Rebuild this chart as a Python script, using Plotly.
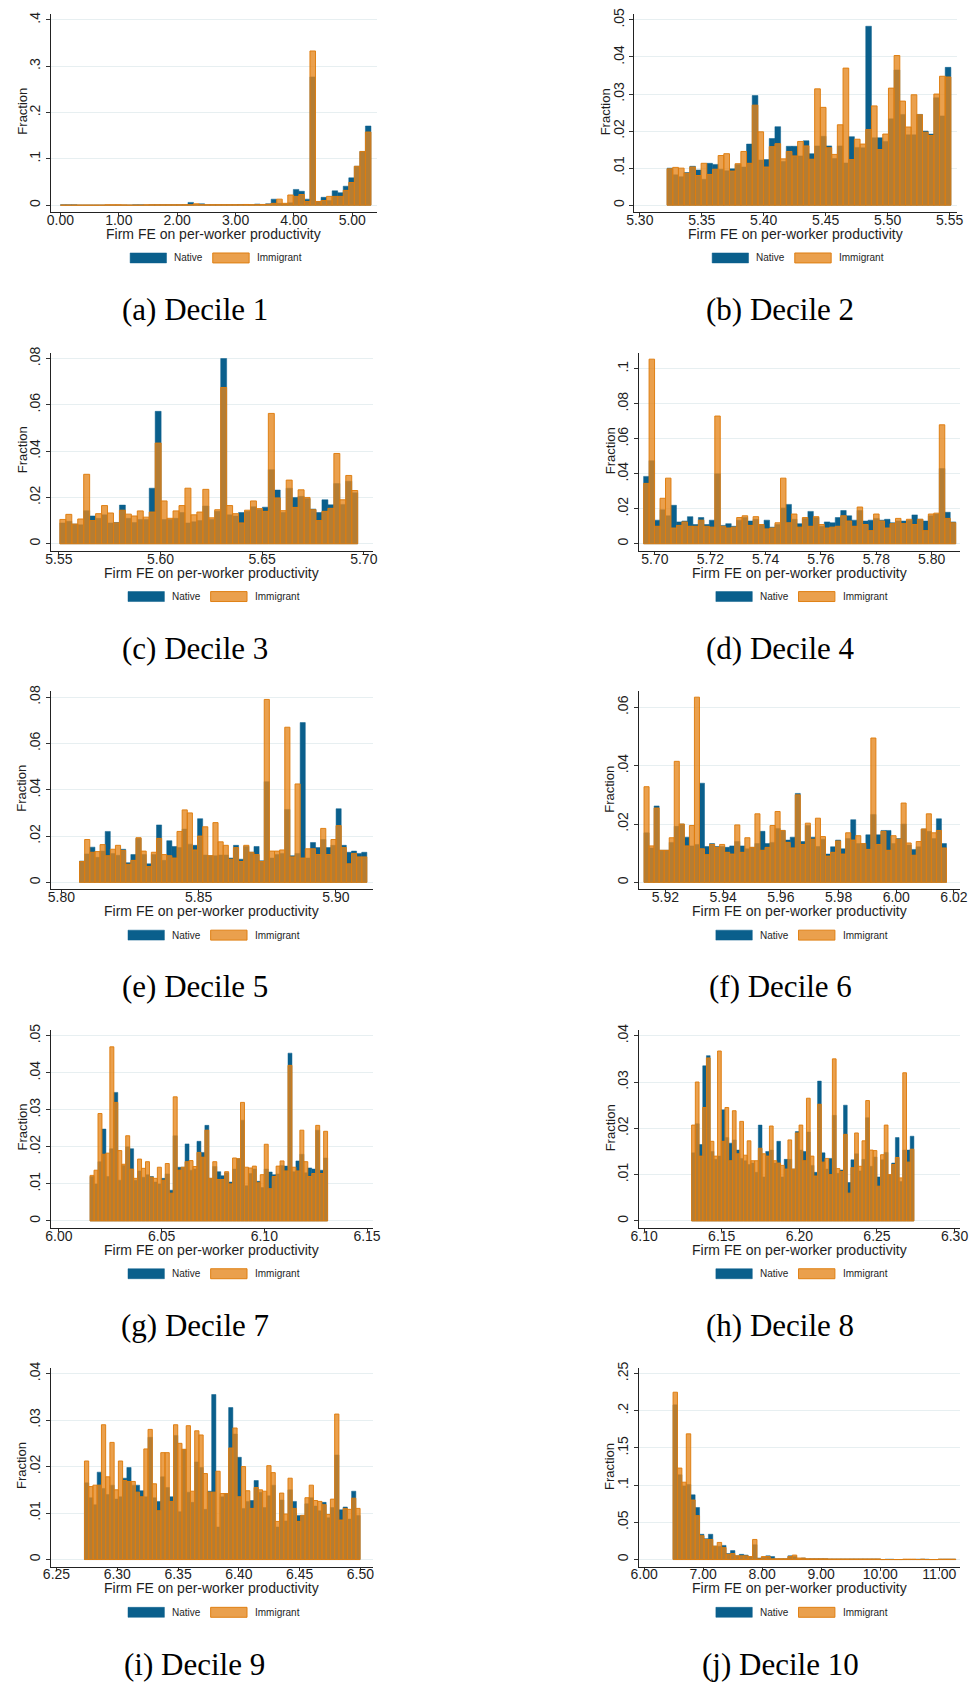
import numpy as np
import plotly.graph_objects as go

W, H = 979, 1689

# ---------------- data: bin ranges and per-bin fractions ----------------
captions = ["(a) Decile 1", "(b) Decile 2", "(c) Decile 3", "(d) Decile 4", "(e) Decile 5",
            "(f) Decile 6", "(g) Decile 7", "(h) Decile 8", "(i) Decile 9", "(j) Decile 10"]

bin_lo = [0.0, 5.322, 5.5505, 5.6959, 5.8066, 5.9126, 6.0152, 6.1306, 6.273, 6.49]
bin_hi = [5.32, 5.551, 5.697, 5.8087, 5.9113, 6.0174, 6.1308, 6.2738, 6.4997, 11.28]

nat_a = [.0008, .0008, .0008, 0, 0, 0, 0, 0, 0, 0, 0, 0, 0, .0008, .0008, 0, .0008, .0008, .0008, .0008,
         .0008, .0008, .0008, .0060, .0015, .0030, .0010, .0010, .0010, .0010, .0010, .0010, .0015, .0010,
         .0010, .0025, .0015, .0030, .0130, .0040, .0030, .0050, .0340, .0300, .0130, .2770, .0080, .0170,
         .0100, .0310, .0270, .0410, .0590, .0840, .1160, .1710]
imm_a = [0, 0, 0, 0, 0, 0, 0, 0, .0008, .0008, .0008, .0005, 0, 0, 0, .0008, .0008, .0008, .0008, .0008,
         .0008, .0008, .0010, .0010, .0030, .0010, .0010, .0010, .0010, .0010, .0010, .0010, .0010, .0015,
         .0010, .0010, .0015, .0020, .0040, .0130, .0040, .0220, .0190, .0230, .0080, .3330, .0080, .0100,
         .0190, .0190, .0190, .0320, .0490, .0840, .1160, .1580]

nat_b = [.0100, .0082, .0077, .0088, .0105, .0095, .0070, .0113, .0110, .0097, .0093, .0098, .0110, .0103,
         .0165, .0296, .0122, .0123, .0180, .0212, .0118, .0159, .0159, .0133, .0174, .0139, .0160, .0186,
         .0160, .0126, .0160, .0114, .0185, .0156, .0155, .0483, .0182, .0182, .0172, .0233, .0365, .0245,
         .0190, .0190, .0245, .0200, .0192, .0290, .0241, .0372]
imm_b = [.0098, .0102, .0100, .0086, .0103, .0080, .0113, .0083, .0097, .0134, .0139, .0092, .0112, .0145,
         .0113, .0270, .0198, .0103, .0158, .0166, .0125, .0145, .0133, .0172, .0160, .0124, .0314, .0264,
         .0155, .0137, .0217, .0370, .0123, .0178, .0165, .0204, .0268, .0150, .0192, .0316, .0404, .0281,
         .0211, .0298, .0244, .0197, .0188, .0300, .0348, .0346]

nat_c = [.0090, .0097, .0085, .0082, .0143, .0120, .0110, .0125, .0090, .0092, .0167, .0110, .0092, .0105,
         .0105, .0240, .0572, .0105, .0105, .0110, .0135, .0090, .0095, .0100, .0163, .0105, .0140, .0800,
         .0125, .0120, .0135, .0140, .0160, .0148, .0158, .0320, .0232, .0135, .0240, .0200, .0205, .0195,
         .0150, .0135, .0190, .0168, .0260, .0170, .0270, .0220]
imm_c = [.0105, .0127, .0085, .0107, .0300, .0100, .0130, .0165, .0133, .0090, .0145, .0128, .0120, .0142,
         .0115, .0137, .0435, .0185, .0110, .0142, .0165, .0240, .0125, .0137, .0235, .0112, .0147, .0675,
         .0165, .0130, .0090, .0145, .0185, .0152, .0140, .0563, .0198, .0143, .0275, .0157, .0233, .0200,
         .0147, .0100, .0140, .0153, .0390, .0190, .0295, .0230]

nat_d = [.0385, .0475, .0135, .0195, .0160, .0220, .0125, .0130, .0155, .0110, .0150, .0110, .0135, .0400,
         .0105, .0115, .0100, .0135, .0150, .0130, .0140, .0110, .0135, .0095, .0110, .0205, .0225, .0140,
         .0115, .0145, .0185, .0150, .0100, .0125, .0120, .0150, .0190, .0160, .0135, .0190, .0130, .0135,
         .0145, .0135, .0140, .0120, .0130, .0130, .0135, .0165, .0140, .0130, .0160, .0170, .0430, .0180,
         .0125]
imm_d = [.0345, .1055, .0100, .0260, .0375, .0090, .0105, .0125, .0100, .0100, .0135, .0100, .0095, .0730,
         .0100, .0090, .0095, .0150, .0160, .0105, .0155, .0110, .0085, .0090, .0120, .0375, .0120, .0170,
         .0095, .0150, .0100, .0155, .0110, .0090, .0095, .0100, .0160, .0130, .0100, .0210, .0110, .0075,
         .0170, .0130, .0090, .0115, .0145, .0115, .0140, .0110, .0140, .0075, .0170, .0175, .0680, .0145,
         .0120]

nat_e = [.0092, .0123, .0152, .0108, .0135, .0220, .0125, .0117, .0143, .0085, .0120, .0190, .0120, .0080,
         .0120, .0248, .0095, .0180, .0155, .0150, .0230, .0165, .0160, .0275, .0118, .0115, .0115, .0118,
         .0118, .0105, .0160, .0100, .0155, .0130, .0155, .0093, .0435, .0105, .0120, .0125, .0315, .0115,
         .0125, .0690, .0105, .0172, .0150, .0185, .0150, .0160, .0318, .0160, .0130, .0135, .0125, .0130]
imm_e = [.0090, .0185, .0130, .0133, .0163, .0115, .0143, .0160, .0138, .0078, .0095, .0193, .0135, .0068,
         .0130, .0190, .0120, .0115, .0105, .0220, .0313, .0300, .0140, .0200, .0240, .0115, .0258, .0175,
         .0160, .0100, .0150, .0090, .0160, .0130, .0120, .0090, .0790, .0135, .0135, .0140, .0670, .0110,
         .0425, .0105, .0145, .0145, .0120, .0233, .0120, .0185, .0245, .0150, .0080, .0125, .0110, .0110]

nat_f = [.0170, .0118, .0262, .0110, .0110, .0137, .0192, .0200, .0155, .0125, .0130, .0340, .0123, .0133,
         .0123, .0123, .0120, .0125, .0140, .0125, .0115, .0120, .0133, .0175, .0133, .0137, .0185, .0178,
         .0145, .0155, .0305, .0140, .0195, .0155, .0123, .0148, .0097, .0122, .0145, .0115, .0150, .0215,
         .0133, .0133, .0163, .0233, .0163, .0178, .0178, .0133, .0150, .0200, .0128, .0113, .0122, .0183,
         .0175, .0150, .0218, .0133]
imm_f = [.0328, .0125, .0255, .0110, .0110, .0153, .0415, .0200, .0125, .0195, .0635, .0115, .0095, .0130,
         .0120, .0130, .0103, .0097, .0197, .0103, .0153, .0120, .0235, .0110, .0120, .0195, .0243, .0178,
         .0137, .0118, .0300, .0130, .0203, .0148, .0220, .0157, .0090, .0103, .0142, .0097, .0170, .0145,
         .0160, .0133, .0113, .0495, .0130, .0175, .0110, .0160, .0148, .0272, .0135, .0093, .0140, .0183,
         .0235, .0170, .0178, .0118]

nat_g = [.0120, .0100, .0160, .0248, .0120, .0195, .0347, .0110, .0150, .0200, .0195, .0110, .0135, .0118,
         .0125, .0120, .0105, .0100, .0115, .0127, .0083, .0230, .0145, .0145, .0208, .0137, .0140, .0215,
         .0185, .0258, .0115, .0147, .0133, .0122, .0130, .0105, .0140, .0168, .0272, .0095, .0128, .0140,
         .0107, .0090, .0140, .0132, .0125, .0127, .0150, .0148, .0453, .0133, .0162, .0180, .0130, .0143,
         .0140, .0245, .0137, .0170]
imm_g = [.0123, .0137, .0290, .0180, .0183, .0470, .0320, .0190, .0153, .0230, .0140, .0115, .0167, .0142,
         .0160, .0118, .0115, .0145, .0110, .0155, .0075, .0335, .0137, .0145, .0160, .0163, .0147, .0185,
         .0172, .0245, .0115, .0160, .0112, .0112, .0133, .0100, .0170, .0168, .0320, .0145, .0143, .0148,
         .0103, .0125, .0207, .0087, .0120, .0148, .0162, .0135, .0420, .0145, .0135, .0245, .0160, .0120,
         .0128, .0258, .0128, .0242]

nat_h = [.0147, .0210, .0165, .0335, .0357, .0150, .0133, .0140, .0240, .0180, .0168, .0175, .0153, .0135,
         .0130, .0122, .0125, .0105, .0207, .0095, .0150, .0153, .0125, .0172, .0095, .0133, .0133, .0112,
         .0193, .0153, .0150, .0192, .0120, .0105, .0302, .0147, .0112, .0135, .0228, .0103, .0110, .0250,
         .0083, .0132, .0145, .0108, .0133, .0223, .0118, .0138, .0095, .0132, .0148, .0100, .0125, .0180,
         .0085, .0153, .0153, .0183]
imm_h = [.0207, .0300, .0140, .0245, .0352, .0172, .0140, .0367, .0172, .0245, .0130, .0238, .0145, .0215,
         .0142, .0173, .0130, .0130, .0157, .0145, .0140, .0205, .0130, .0125, .0120, .0112, .0175, .0112,
         .0190, .0207, .0130, .0265, .0140, .0097, .0252, .0127, .0135, .0100, .0350, .0113, .0107, .0187,
         .0060, .0115, .0190, .0118, .0173, .0260, .0153, .0152, .0075, .0143, .0207, .0100, .0122, .0137,
         .0093, .0320, .0127, .0155]

nat_i = [.0165, .0133, .0118, .0188, .0153, .0140, .0160, .0130, .0135, .0175, .0198, .0160, .0160, .0148,
         .0135, .0263, .0133, .0125, .0178, .0155, .0135, .0267, .0103, .0237, .0145, .0123, .0210, .0198,
         .0108, .0147, .0355, .0070, .0135, .0142, .0327, .0270, .0220, .0110, .0125, .0127, .0170, .0145,
         .0112, .0137, .0160, .0070, .0128, .0083, .0150, .0125, .0095, .0095, .0120, .0133, .0115, .0105,
         .0123, .0090, .0112, .0225, .0107, .0113, .0087, .0147, .0095]
imm_i = [.0212, .0157, .0160, .0160, .0290, .0178, .0252, .0150, .0212, .0170, .0168, .0168, .0145, .0135,
         .0238, .0280, .0163, .0105, .0230, .0230, .0125, .0290, .0250, .0237, .0288, .0147, .0277, .0268,
         .0185, .0145, .0145, .0190, .0142, .0142, .0240, .0283, .0135, .0200, .0148, .0110, .0155, .0150,
         .0147, .0202, .0187, .0082, .0143, .0098, .0175, .0110, .0082, .0095, .0133, .0160, .0127, .0125,
         .0118, .0097, .0130, .0313, .0085, .0110, .0108, .0132, .0110]

nat_j = [.208, .114, .099, .101, .087, .070, .034, .028, .034, .018, .018, .019, .008, .012, .005, .007,
         .006, .004, .020, .002, .003, .005, .004, .001, .001, .001, .005, .004, .001, .002, .001, .001,
         .001, .001, .001, .0008, .0008, .0008, .0008, .0008, .0008, .0008, .0008, .0008, .0008, .0008,
         .0008, 0, .0005, .0005, 0, 0, 0, 0, 0, .0005, .0005, .0005, 0, 0, .0005, .0005, .0005, .0005]
imm_j = [.225, .123, .104, .169, .080, .059, .032, .027, .027, .018, .023, .016, .007, .008, .005, .005,
         .005, .004, .027, .001, .004, .004, .001, .001, .001, .001, .004, .006, .002, .002, .001, .001,
         .001, .001, .001, .0008, .0008, .0008, .0008, .0008, .0008, .0008, .0008, .0008, .0008, .0008,
         .0008, 0, 0, 0, 0, 0, .0005, .0005, .0005, 0, .0005, 0, 0, 0, .0005, .0005, .0005, .0005]

native = [nat_a, nat_b, nat_c, nat_d, nat_e, nat_f, nat_g, nat_h, nat_i, nat_j]
immigrant = [imm_a, imm_b, imm_c, imm_d, imm_e, imm_f, imm_g, imm_h, imm_i, imm_j]

x_ticks = [
    ["0.00", "1.00", "2.00", "3.00", "4.00", "5.00"],
    ["5.30", "5.35", "5.40", "5.45", "5.50", "5.55"],
    ["5.55", "5.60", "5.65", "5.70"],
    ["5.70", "5.72", "5.74", "5.76", "5.78", "5.80"],
    ["5.80", "5.85", "5.90"],
    ["5.92", "5.94", "5.96", "5.98", "6.00", "6.02"],
    ["6.00", "6.05", "6.10", "6.15"],
    ["6.10", "6.15", "6.20", "6.25", "6.30"],
    ["6.25", "6.30", "6.35", "6.40", "6.45", "6.50"],
    ["6.00", "7.00", "8.00", "9.00", "10.00", "11.00"],
]
y_ticks = [
    ["0", ".1", ".2", ".3", ".4"],
    ["0", ".01", ".02", ".03", ".04", ".05"],
    ["0", ".02", ".04", ".06", ".08"],
    ["0", ".02", ".04", ".06", ".08", ".1"],
    ["0", ".02", ".04", ".06", ".08"],
    ["0", ".02", ".04", ".06"],
    ["0", ".01", ".02", ".03", ".04", ".05"],
    ["0", ".01", ".02", ".03", ".04"],
    ["0", ".01", ".02", ".03", ".04"],
    ["0", ".05", ".1", ".15", ".2", ".25"],
]

# ---------------- layout geometry (pixels) ----------------
# plot area left/right, and pixel positions of first/last x tick label
x_dom = [(43.3, 375.0), (636.7, 965.0), (43.3, 370.7), (641.0, 968.3), (43.3, 370.7),
         (641.0, 968.3), (43.3, 370.7), (641.0, 968.3), (43.3, 370.7), (641.0, 968.3)]
x_tick_px = [(53.3, 350.0), (642.3, 957.3), (51.7, 361.7), (657.7, 939.0), (54.3, 333.3),
             (668.3, 961.7), (51.7, 365.0), (646.7, 962.3), (49.3, 358.3), (646.7, 946.7)]
# pixel row of the top y tick (within a 340 px row)
y_top_tick = [14, 14, 14, 24.3, 14, 24.3, 14, 14, 13.3, 13.3]
ROW = 340
TOP, BOT, ZERO = 7.0, 206.0, 199.0

NAT_COL = "#0a5f8c"
IMM_FILL = "rgba(228,133,27,0.78)"
IMM_LINE = "rgba(222,124,14,0.95)"
SANS = "Liberation Sans, Arial, sans-serif"
SERIF = "Liberation Serif, Times New Roman, serif"
TXT = "#1e1e1e"


def fx(p):
    return p / W


def fy(p):
    return 1 - p / H


fig = go.Figure()
layout = dict(width=W, height=H, margin=dict(l=0, r=0, t=0, b=0),
              paper_bgcolor="white", plot_bgcolor="white", barmode="overlay",
              showlegend=False, shapes=[], annotations=[])

for k in range(10):
    row, col = divmod(k, 2)
    off = row * ROW
    sfx = "" if k == 0 else str(k + 1)

    edges = np.linspace(bin_lo[k], bin_hi[k], len(native[k]) + 1)
    centers = (edges[:-1] + edges[1:]) / 2
    width = edges[1] - edges[0]

    fig.add_trace(go.Bar(x=centers, y=native[k], width=width, xaxis="x" + sfx, yaxis="y" + sfx,
                         marker=dict(color=NAT_COL, line=dict(color=NAT_COL, width=0.5)),
                         name="Native"))
    fig.add_trace(go.Bar(x=centers, y=immigrant[k], width=width, xaxis="x" + sfx, yaxis="y" + sfx,
                         marker=dict(color=IMM_FILL, line=dict(color=IMM_LINE, width=1)),
                         name="Immigrant"))

    # x axis range from tick pixel positions
    xt = [float(t) for t in x_ticks[k]]
    p0, p1 = x_tick_px[k]
    sx = (p1 - p0) / (xt[-1] - xt[0])
    L, R = x_dom[k]
    xr = [xt[0] - (p0 - L) / sx, xt[-1] + (R - p1) / sx]

    yt = [float(t) for t in y_ticks[k]]
    sy = (ZERO - (y_top_tick[k] - 1)) / yt[-1]
    yr = [-(BOT - ZERO) / sy, (ZERO - TOP) / sy]

    layout["xaxis" + sfx] = dict(
        domain=[fx(L), fx(R)], range=xr, anchor="y" + sfx,
        tickmode="array", tickvals=xt, ticktext=x_ticks[k],
        ticks="outside", ticklen=3, tickcolor="#333", tickwidth=1,
        ticklabelstandoff=-8,
        showline=True, linecolor="#222", linewidth=1,
        showgrid=False, zeroline=False,
        tickfont=dict(family=SANS, size=14, color=TXT))
    layout["yaxis" + sfx] = dict(
        domain=[fy(BOT + off), fy(TOP + off)], range=yr, anchor="x" + sfx,
        tickmode="array", tickvals=yt, ticktext=y_ticks[k], tickangle=-90,
        ticks="outside", ticklen=4, tickcolor="#333", tickwidth=1,
        showline=True, linecolor="#222", linewidth=1,
        showgrid=True, gridcolor="#e7eff1", gridwidth=1, zeroline=False,
        tickfont=dict(family=SANS, size=14, color=TXT))

    cx = (L + R) / 2
    # x axis title
    layout["annotations"].append(dict(
        text="Firm FE on per-worker productivity", x=fx(cx), y=fy(228 + off),
        xref="paper", yref="paper", showarrow=False, xanchor="center", yanchor="middle",
        font=dict(family=SANS, size=14, color=TXT)))
    # y axis title
    layout["annotations"].append(dict(
        text="Fraction", x=fx(L - 29), y=fy(105 + off), textangle=-90,
        xref="paper", yref="paper", showarrow=False, xanchor="center", yanchor="middle",
        font=dict(family=SANS, size=13, color=TXT)))
    # legend keys
    ly = 252 + off
    layout["shapes"].append(dict(type="rect", xref="paper", yref="paper",
                                 x0=fx(cx - 85), x1=fx(cx - 48), y0=fy(ly + 5), y1=fy(ly - 5),
                                 fillcolor=NAT_COL, line=dict(color=NAT_COL, width=0.5)))
    layout["shapes"].append(dict(type="rect", xref="paper", yref="paper",
                                 x0=fx(cx - 1), x1=fx(cx + 36), y0=fy(ly + 5), y1=fy(ly - 5),
                                 fillcolor=IMM_FILL, line=dict(color=IMM_LINE, width=1)))
    layout["annotations"].append(dict(
        text="Native", x=fx(cx - 42), y=fy(ly), xref="paper", yref="paper", showarrow=False,
        xanchor="left", yanchor="middle", font=dict(family=SANS, size=10, color=TXT)))
    layout["annotations"].append(dict(
        text="Immigrant", x=fx(cx + 42), y=fy(ly), xref="paper", yref="paper", showarrow=False,
        xanchor="left", yanchor="middle", font=dict(family=SANS, size=10, color=TXT)))
    # sub-figure caption
    layout["annotations"].append(dict(
        text=captions[k], x=fx(190 if col == 0 else 785), y=fy(304 + off),
        xref="paper", yref="paper", showarrow=False, xanchor="center", yanchor="middle",
        font=dict(family=SERIF, size=31, color="black")))

fig.update_layout(**layout)
fig.write_html("out.html")
